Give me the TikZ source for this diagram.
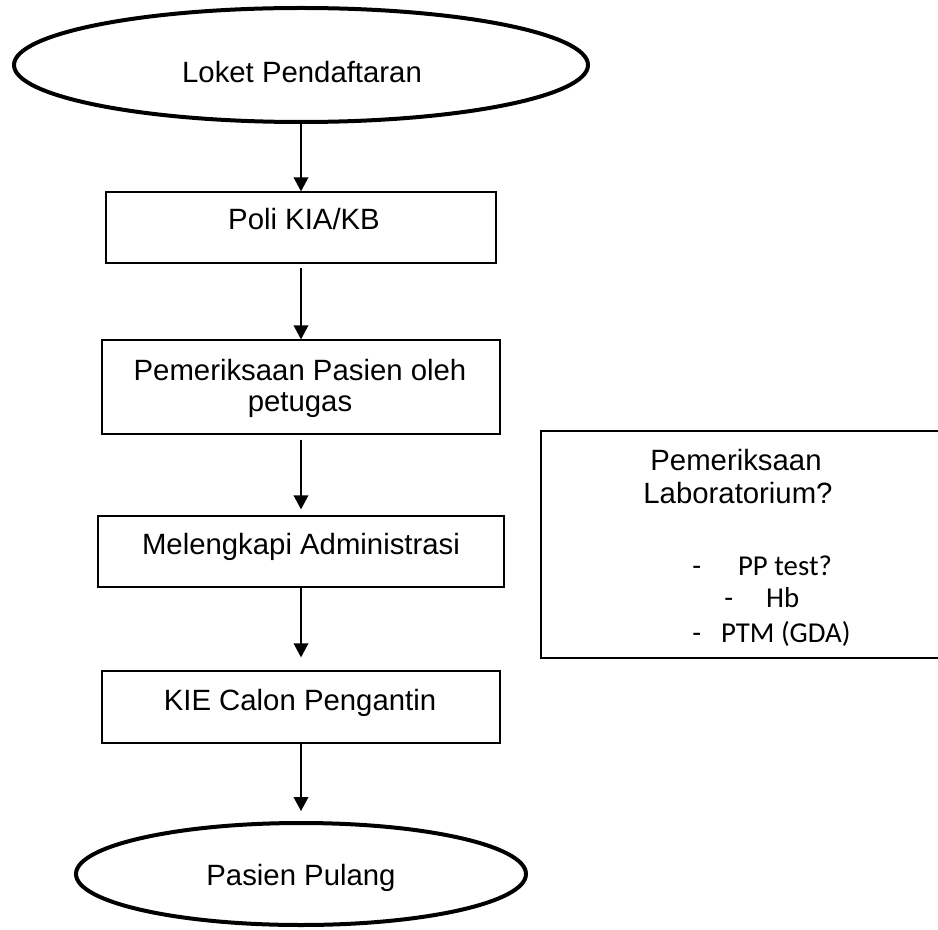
\documentclass[tikz,border=0pt]{standalone}
\usepackage{fontspec}
\setmainfont{Liberation Sans}
\newfontfamily\listfont{Carlito}
\usetikzlibrary{arrows.meta,shapes.geometric}
\begin{document}
\begin{tikzpicture}[x=0.75pt,y=-0.75pt,
  terminal/.style={draw,line width=3pt,ellipse,inner sep=0pt},
  stepbox/.style={draw,line width=1pt,rectangle,inner sep=0pt},
  txt/.style={font=\fontsize{22}{25}\selectfont,inner sep=0pt,anchor=base},
  item/.style={font=\listfont\fontsize{21.6}{26}\selectfont,inner sep=0pt,anchor=base west},
  flow/.style={-{Triangle[width=11pt,length=10.5pt]},line width=1.1pt}
]
% page area
\clip (0,0) rectangle (938,930);

% start and end terminals
\node[terminal,minimum width=574*0.75pt,minimum height=114*0.75pt] (start) at (301,65) {};
\node[txt] (starttext) at (302,83) {Loket Pendaftaran};

\node[terminal,minimum width=450*0.75pt,minimum height=102*0.75pt] (stop) at (301,874) {};
\node[txt] (stoptext) at (301,885) {Pasien Pulang};

% process steps
\node[stepbox,minimum width=390*0.75pt,minimum height=71*0.75pt] (poli) at (301,227.5) {};
\node[txt] (politext) at (304,230) {Poli KIA/KB};

\node[stepbox,minimum width=398*0.75pt,minimum height=94*0.75pt] (exam) at (301,387) {};
\node[txt] (examtexta) at (300,380) {Pemeriksaan Pasien oleh};
\node[txt] (examtextb) at (300,411) {petugas};

\node[stepbox,minimum width=406*0.75pt,minimum height=71*0.75pt] (admin) at (301,551.5) {};
\node[txt] (admintext) at (301,554) {Melengkapi Administrasi};

\node[stepbox,minimum width=398*0.75pt,minimum height=72*0.75pt] (kie) at (301,707) {};
\node[txt] (kietext) at (300,710) {KIE Calon Pengantin};

% laboratory note
\node[stepbox,minimum width=419*0.75pt,minimum height=227*0.75pt] (lab) at (750.5,544.5) {};
\node[txt] (labtexta) at (736,470) {Pemeriksaan};
\node[txt] (labtextb) at (738,503) {Laboratorium?};
\node[item] (labitema) at (692,575) {-\hspace{27.75pt}PP test?};
\node[item] (labitemb) at (724,607) {-\hspace{24.75pt}Hb};
\node[item] (labitemc) at (692,642) {-\hspace{15pt}PTM (GDA)};

% flow arrows
\draw[flow] (start.south) -- (poli.north);
\draw[flow,shorten <=3pt] (poli.south) -- (exam.north);
\draw[flow,shorten <=3.75pt,shorten >=4.5pt] (exam.south) -- (admin.north);
\draw[flow,shorten >=9.75pt] (admin.south) -- (kie.north);
\draw[flow,shorten >=7.5pt] (kie.south) -- (stop.north);
\end{tikzpicture}
\end{document}
